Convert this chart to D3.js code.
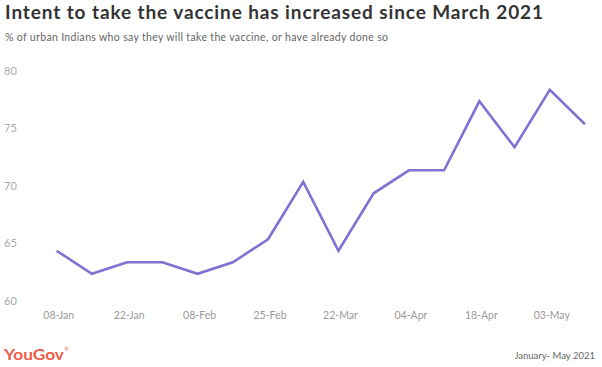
<!DOCTYPE html>
<html><head><meta charset="utf-8">
<script src="https://cdn.jsdelivr.net/npm/d3@7"></script>
<style>html,body{margin:0;padding:0;background:#fff;}svg{display:block;}</style>
</head><body><svg id="c" width="602" height="367"></svg>
<script>
const surveyIndex = [0,1,2,3,4,5,6,7,8,9,10,11,12,13,14,15];
const intentPct = [64,62,63,63,62,63,65,70,64,69,71,71,77,73,78,75];
const tickIndex = [0,2,4,6,8,10,12,14];
const tickLabels = ["08-Jan","22-Jan","08-Feb","25-Feb","22-Mar","04-Apr","18-Apr","03-May"];
const yTicks = [60,65,70,75,80];

const svg = d3.select("#c");
const font = "Lato, 'Open Sans', sans-serif";

const x = d3.scalePoint().domain(surveyIndex).range([56.7, 585]);
const y = d3.scaleLinear().domain([60, 80]).range([296.8, 66.8]);

// title
svg.append("text").attr("x", 5).attr("y", 19)
  .attr("font-family", font).attr("font-weight", 700).attr("font-size", 19)
  .attr("fill", "#333").attr("textLength", 538).attr("lengthAdjust", "spacing")
  .text("Intent to take the vaccine has increased since March 2021");

svg.append("text").attr("x", 5).attr("y", 40.5)
  .attr("font-family", font).attr("font-size", 10.5)
  .attr("fill", "#666").attr("textLength", 383).attr("lengthAdjust", "spacing")
  .text("% of urban Indians who say they will take the vaccine, or have already done so");

// y axis labels
const yAxis = d3.axisLeft(y).tickValues(yTicks).tickSize(0).tickPadding(0);
const gy = svg.append("g").attr("transform", "translate(4,3.8)").call(yAxis);
gy.select(".domain").remove();
gy.selectAll("text").attr("text-anchor", "start").attr("font-family", font)
  .attr("font-size", 11).attr("fill", "#aaa");

// x axis labels
const xAxis = d3.axisBottom(x).tickValues(tickIndex)
  .tickFormat((d) => tickLabels[tickIndex.indexOf(d)]).tickSize(0).tickPadding(0);
const gx = svg.append("g").attr("transform", "translate(1.5,312)").call(xAxis);
gx.select(".domain").remove();
gx.selectAll("text").attr("font-family", font).attr("font-size", 10.5).attr("fill", "#999");

// line
const line = d3.line().x((d, i) => x(surveyIndex[i])).y((d) => y(d));
svg.append("path").datum(intentPct).attr("d", line)
  .attr("fill", "none").attr("stroke", "#7e72d2").attr("stroke-width", 2.6)
  .attr("stroke-linejoin", "miter");

// footer
svg.append("text").attr("x", 4).attr("y", 360)
  .attr("font-family", font).attr("font-weight", 700).attr("font-size", 15.5)
  .attr("fill", "#ec5a48").attr("textLength", 60).attr("lengthAdjust", "spacingAndGlyphs")
  .text("YouGov");
svg.append("text").attr("x", 64.5).attr("y", 351).attr("font-family", font)
  .attr("font-size", 5).attr("fill", "#ec5a48").text("®");

svg.append("text").attr("x", 595).attr("y", 358.5).attr("text-anchor", "end")
  .attr("font-family", font).attr("font-size", 9.5).attr("fill", "#666")
  .text("January- May 2021");
</script></body></html>
